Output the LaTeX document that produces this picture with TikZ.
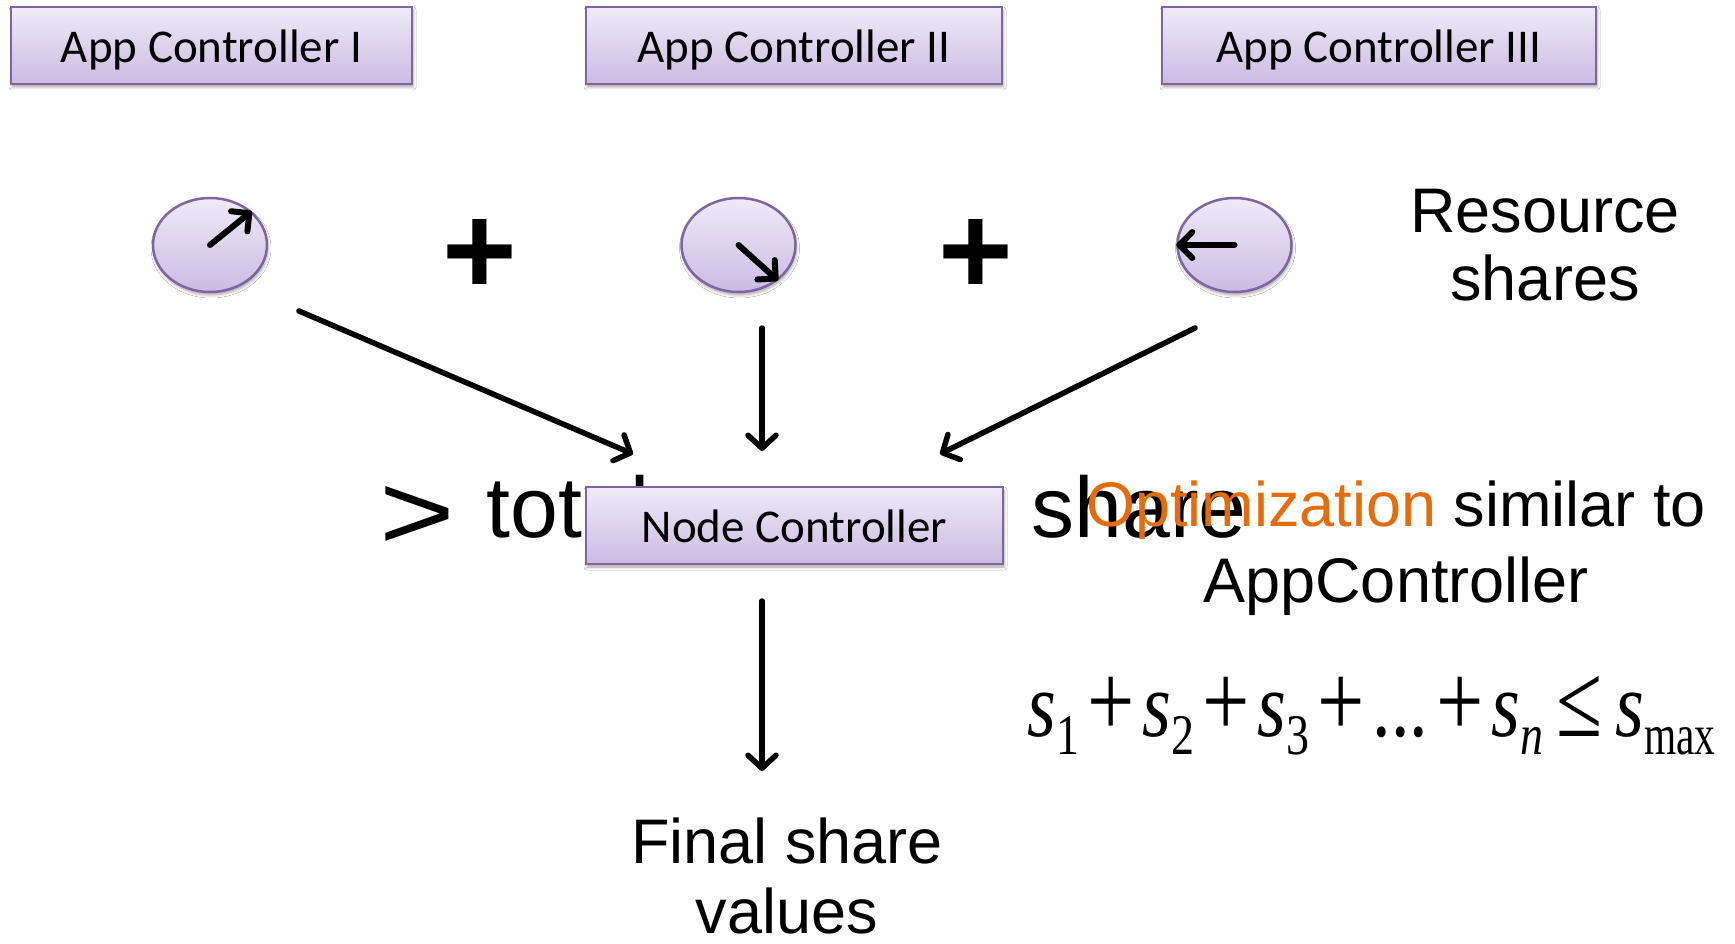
\documentclass[tikz,border=0pt]{standalone}
\usepackage{graphicx}
\usepackage{fontspec}
\setmainfont{Liberation Sans}
\newfontfamily\boxfont{Carlito}
\newfontfamily\eqfont{Liberation Serif}
\usetikzlibrary{arrows.meta,shapes.geometric,shadows.blur}

\definecolor{boxtop}{HTML}{EFEAF7}
\definecolor{boxbot}{HTML}{CBBBE3}
\definecolor{boxline}{HTML}{8064A2}
\definecolor{optorange}{HTML}{E46C0A}

% pieces of the share constraint
\newcommand\eqs{\textit{s}}
\newcommand\eqsub[1]{\raisebox{-15pt}{\fontsize{46}{46}\selectfont #1}}
\newcommand\eqop[2][8pt]{\hspace{#1}{\fontsize{84}{84}\selectfont #2}\hspace{#1}}

\tikzset{
  ctrl/.style={draw=boxline, line width=2.5pt, top color=boxtop, bottom color=boxbot,
    blur shadow={shadow xshift=1pt, shadow yshift=-3pt, shadow blur radius=3pt, shadow opacity=35},
    font=\boxfont\fontsize{47}{47}\selectfont, text height=34pt, text depth=0pt,
    minimum height=77pt, inner sep=0pt},
  sharedial/.style={ellipse, draw=boxline, line width=2.5pt, top color=boxtop, bottom color=boxbot,
    blur shadow={shadow xshift=1pt, shadow yshift=-3pt, shadow blur radius=3pt, shadow opacity=35},
    minimum width=114pt, minimum height=94pt, inner sep=0pt},
  flow/.style={line width=5.5pt, line cap=round, -{Straight Barb[length=13pt,width=28pt,round]}},
  needle/.style={line width=6pt, line cap=round, -{Straight Barb[length=13pt,width=26pt,round]}},
  plain/.style={font=\fontsize{63}{68}\selectfont, align=center, inner sep=0pt},
  plus/.style={font=\bfseries\fontsize{128}{128}\selectfont, inner sep=0pt},
}

\begin{document}
\begin{tikzpicture}[x=1pt,y=-1pt]
\useasboundingbox (0,0) rectangle (1735,944);
\fill[white] (0,0) rectangle (1735,944);

% application controllers
\node[ctrl, minimum width=401pt] (app1) at (211.5,45.5) {App Controller I};
\node[ctrl, minimum width=416pt] (app2) at (794,45.5) {App Controller II};
\node[ctrl, minimum width=434pt] (app3) at (1379,45.5) {App Controller III};

% resource share dials
\node[sharedial] (c1) at (210,245) {};
\node[sharedial] (c2) at (738.5,245) {};
\node[sharedial] (c3) at (1234.5,245) {};
\draw[needle] (c1.center) -- (c1.39);
\draw[needle] (c2.center) -- (c2.-42);
\draw[needle] (c3.center) -- (c3.180);

\node[plus] (p1) at (479.5,257) {+};
\node[plus] (p2) at (975.5,257) {+};

% anchor=base sits on the last line of a multi-line node
\node[plain, anchor=base] (res) at (1545,300) {Resource\\shares};

% arrows into the node controller
\coordinate (a1s) at (299,311);  \coordinate (a1e) at (633,454);
\coordinate (a2s) at (762,328);  \coordinate (a2e) at (762,451);
\coordinate (a3s) at (1195,328); \coordinate (a3e) at (940,454);
\draw[flow] (a1s) -- (a1e);
\draw[flow] (a2s) -- (a2e);
\draw[flow] (a3s) -- (a3e);

% large caption behind the node controller
\node[anchor=base west, inner sep=0pt, font=\fontsize{86}{86}\selectfont] (total) at (379,537)
  {\raisebox{-12pt}{\scalebox{1.2}[1]{\fontsize{108}{108}\selectfont >}}\hspace{31.8pt}total resource share};

\node[ctrl, minimum width=417pt] (nc) at (794.5,525.5) {Node Controller};

\node[plain, anchor=base, font=\fontsize{63}{76}\selectfont] (opt) at (1396,602)
  {{\color{optorange}Optimization} similar to\\AppController};

% final output
\coordinate (a4s) at (762,601); \coordinate (a4e) at (762,771);
\draw[flow] (a4s) -- (a4e);
\node[plain, anchor=base, font=\fontsize{63}{70}\selectfont] (final) at (787,933) {Final share\\values};

% share constraint
\node[anchor=base west, inner sep=0pt, font=\eqfont\fontsize{74}{74}\selectfont] (eq) at (1027,736)
  {\scalebox{1}[1.25]{\eqs\eqsub{1}\eqop{+}\eqs\eqsub{2}\eqop{+}\eqs\eqsub{3}\eqop{+}...\eqop{+}\eqs\eqsub{\textit{n}}\eqop[13pt]{≤}\eqs\eqsub{\scalebox{0.9}[1]{max}}}};
\end{tikzpicture}
\end{document}
